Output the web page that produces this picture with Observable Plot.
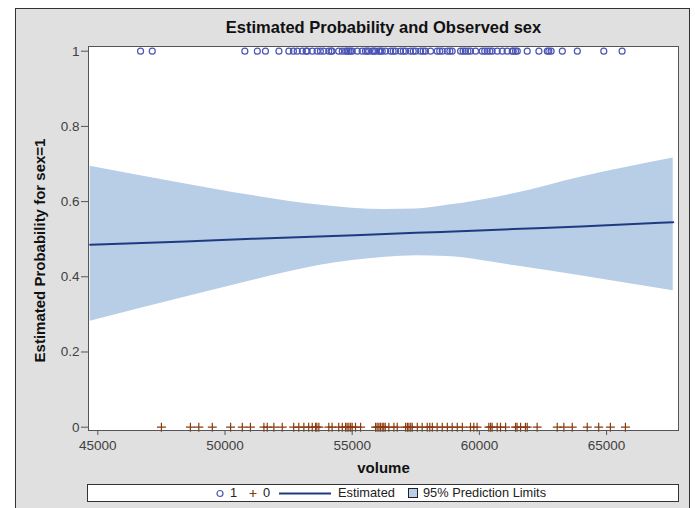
<!DOCTYPE html>
<html>
<head>
<meta charset="utf-8">
<script src="https://cdn.jsdelivr.net/npm/d3@7"></script>
<script src="https://cdn.jsdelivr.net/npm/@observablehq/plot@0.6"></script>
<style>
  body { margin: 0; background: white; font-family: "Liberation Sans", Arial, sans-serif; }
  #wrap { position: relative; width: 695px; height: 508px; overflow: hidden; }
  #bg { position: absolute; left: 15px; top: 8px; width: 673px; height: 520px; background: #e0e0e0; border: 1px solid #333; }
  #chart { position: absolute; left: 0; top: 0; }
  #legend { position: absolute; left: 87px; top: 484px; width: 590px; height: 16px; background: white; border: 1px solid #333; font-size: 12.8px; color: #222; }
  #legend .it { position: absolute; top: 0; line-height: 16px; }
</style>
</head>
<body>
<div id="wrap">
  <div id="bg"></div>
  <div id="chart"></div>
  <div id="legend"></div>
</div>
<script>
// Observed volumes, sex = 1 (circles at y = 1)
const volumesSex1 = [46680, 47140, 50780, 51270, 51590, 52120, 52510, 52690, 52840, 53040, 53190, 53230, 53430, 53620, 53750, 53880, 54080, 54170, 54210, 54470, 54610, 54740, 54800, 54870, 54930, 55000, 55200, 55390, 55520, 55590, 55650, 55790, 55850, 55920, 56050, 56110, 56180, 56310, 56510, 56610, 56700, 56900, 57010, 57100, 57290, 57400, 57490, 57690, 57790, 57880, 58080, 58340, 58440, 58540, 58740, 58840, 58930, 59260, 59360, 59450, 59550, 59650, 59850, 60110, 60210, 60310, 60410, 60500, 60700, 60900, 61090, 61290, 61330, 61420, 61490, 61880, 62340, 62670, 62730, 62820, 63260, 63850, 64890, 65610];
// Observed volumes, sex = 0 (pluses at y = 0)
const volumesSex0 = [47500, 48640, 48970, 49500, 50220, 50680, 51000, 51530, 51660, 51920, 52250, 52700, 52900, 53100, 53290, 53430, 53560, 53610, 53690, 54080, 54210, 54470, 54610, 54740, 54800, 54870, 54940, 55000, 55130, 55330, 55920, 55980, 56050, 56110, 56180, 56240, 56300, 56440, 56640, 56770, 57100, 57170, 57230, 57300, 57360, 57560, 57750, 57950, 58050, 58150, 58340, 58540, 58740, 58930, 59130, 59330, 59650, 59780, 59910, 60370, 60440, 60500, 60700, 60830, 61030, 61420, 61480, 61620, 61810, 61880, 62270, 63060, 63320, 63650, 64240, 64690, 65150, 65740];
// Fitted curve and 95% prediction limits
const fitVolume = [44700, 48450, 51070, 53690, 56310, 57500, 58740, 61350, 63980, 67620];
const fitEstimate = [0.485, 0.494, 0.501, 0.507, 0.514, 0.517, 0.520, 0.527, 0.534, 0.545];
const fitLower = [0.282, 0.346, 0.390, 0.430, 0.452, 0.456, 0.454, 0.430, 0.403, 0.363];
const fitUpper = [0.694, 0.647, 0.616, 0.591, 0.579, 0.580, 0.590, 0.621, 0.665, 0.716];
// Ticks
const xTicks = [45000, 50000, 55000, 60000, 65000];
const yTicks = [0, 0.2, 0.4, 0.6, 0.8, 1];

const fit = fitVolume.map((v, i) => ({v, est: fitEstimate[i], lo: fitLower[i], hi: fitUpper[i]}));

const font = '"Liberation Sans", Arial, sans-serif';
const chart = Plot.plot({
  width: 695, height: 470,
  marginLeft: 88, marginRight: 17, marginTop: 46, marginBottom: 40,
  style: {background: "transparent", fontFamily: font, fontSize: "13.5px", color: "#333", overflow: "visible"},
  x: {domain: [44634, 67827]},
  y: {domain: [-0.0088, 1.0125]},
  marks: [
    Plot.frame({fill: "white", stroke: "none"}),
    Plot.areaY(fit, {x: "v", y1: "lo", y2: "hi", fill: "#b8cde6", curve: "monotone-x"}),
    Plot.lineY(fit, {x: "v", y: "est", stroke: "#1f3b80", strokeWidth: 2, curve: "monotone-x"}),
    Plot.dot(volumesSex1, {x: d => d, y: () => 1, r: 3, stroke: "#4a55b5", strokeWidth: 1.2, fill: "none"}),
    Plot.dot(volumesSex0, {x: d => d, y: () => 0, symbol: "plus", r: 3, stroke: "#8b3a10", strokeWidth: 1.2}),
    Plot.frame({stroke: "#555"}),
    Plot.axisX({ticks: xTicks, tickSize: 5, tickPadding: 5, tickFormat: d => String(d), label: null, stroke: "#555", fill: "#404040", fontSize: 13.5}),
    Plot.axisY({ticks: yTicks, tickSize: 7, tickPadding: 2, tickFormat: d => String(d), label: null, stroke: "#555", fill: "#404040", fontSize: 13.5}),
    Plot.text(["Estimated Probability and Observed sex"], {frameAnchor: "top", lineAnchor: "middle", dy: -19, fontSize: 16.5, fontWeight: "bold", fill: "#111"}),
    Plot.text(["volume"], {frameAnchor: "bottom", lineAnchor: "middle", dy: 38, fontSize: 15, fontWeight: "bold", fill: "#111"}),
    Plot.text(["Estimated Probability for sex=1"], {frameAnchor: "left", textAnchor: "middle", lineAnchor: "middle", rotate: -90, dx: -48, dy: 12, fontSize: 15, fontWeight: "bold", fill: "#111"})
  ]
});
document.getElementById("chart").appendChild(chart);

// Legend below the SVG
const legend = document.getElementById("legend");
const items = [
  {x: 127, html: '<svg width="10" height="16"><circle cx="5" cy="8.5" r="3" fill="none" stroke="#4a55b5" stroke-width="1.2"/></svg>'},
  {x: 142, html: '1'},
  {x: 160, html: '<svg width="10" height="16"><path d="M1.5,8.5H8.5M5,5V12" stroke="#8b3a10" stroke-width="1.2"/></svg>'},
  {x: 175, html: '0'},
  {x: 191, html: '<svg width="53" height="16"><line x1="0" x2="52" y1="8.5" y2="8.5" stroke="#1f3b80" stroke-width="2"/></svg>'},
  {x: 250, html: 'Estimated'},
  {x: 320, html: '<svg width="11" height="16"><rect x="0.5" y="3.5" width="9" height="9" fill="#b8cde6" stroke="#222" stroke-width="1"/></svg>'},
  {x: 335, html: '95% Prediction Limits'}
];
for (const it of items) {
  const s = document.createElement("div");
  s.className = "it";
  s.style.left = it.x + "px";
  s.innerHTML = it.html;
  legend.appendChild(s);
}
</script>
</body>
</html>
